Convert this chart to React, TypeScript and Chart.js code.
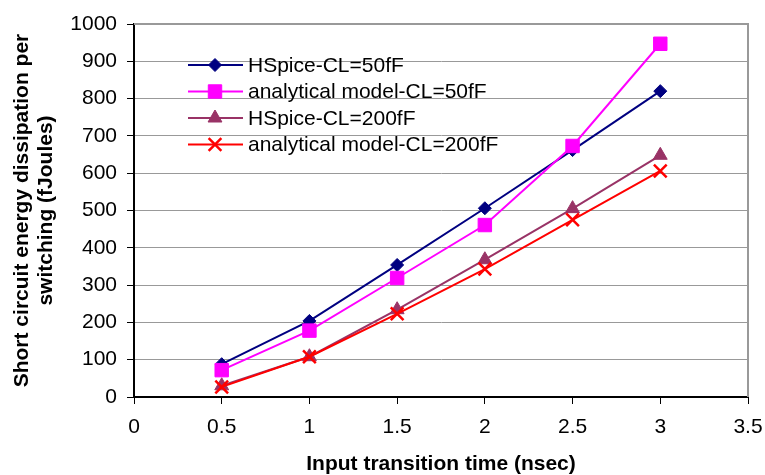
import React, { useEffect, useRef } from "react";
import { Chart, registerables } from "chart.js";
import { drawPoint } from "chart.js/helpers";

Chart.register(...registerables);

const xValues = [0.5, 1, 1.5, 2, 2.5, 3];
const hspice50 = [88, 204, 354, 506, 662, 820];
const analytical50 = [72, 178, 319, 461, 673, 947];
const hspice200 = [30, 108, 234, 368, 505, 648];
const analytical200 = [27, 108, 223, 343, 475, 606];

const seriesNames = [
  "HSpice-CL=50fF",
  "analytical model-CL=50fF",
  "HSpice-CL=200fF",
  "analytical model-CL=200fF",
];
const seriesValues = [hspice50, analytical50, hspice200, analytical200];
const seriesColors = ["#000080", "#FF00FF", "#993366", "#FF0000"];
const seriesStyles = ["rectRot", "rect", "triangle", "crossRot"];
const seriesRadius = [6.5, 9.5, 8, 9];

const xTitle = "Input transition time (nsec)";
const yTitle = ["Short circuit energy dissipation per", "switching (fJoules)"];

const FONT = "'Liberation Sans', Arial, sans-serif";

const framePlugin = {
  id: "frame",
  beforeDatasetsDraw(chart: any) {
    const { ctx, chartArea } = chart;
    ctx.save();
    ctx.strokeStyle = "#999999";
    ctx.lineWidth = 2;
    ctx.beginPath();
    ctx.moveTo(chartArea.left, chartArea.top);
    ctx.lineTo(chartArea.right, chartArea.top);
    ctx.lineTo(chartArea.right, chartArea.bottom);
    ctx.stroke();
    ctx.restore();
  },
};

const legendPlugin = {
  id: "customLegend",
  afterDraw(chart: any) {
    const { ctx } = chart;
    const x0 = 188;
    const x1 = 243;
    const xm = 215;
    const xt = 248;
    const y0 = 65;
    const dy = 26.5;
    ctx.save();
    chart.data.datasets.forEach((ds: any, i: number) => {
      const y = y0 + i * dy;
      ctx.strokeStyle = ds.borderColor;
      ctx.lineWidth = 2;
      ctx.beginPath();
      ctx.moveTo(x0, y);
      ctx.lineTo(x1, y);
      ctx.stroke();
      ctx.fillStyle = ds.pointBackgroundColor;
      ctx.strokeStyle = ds.pointBorderColor;
      ctx.lineWidth = ds.pointBorderWidth;
      drawPoint(ctx, { pointStyle: ds.pointStyle, radius: ds.pointRadius, rotation: 0, borderWidth: ds.pointBorderWidth }, xm, y);
      ctx.fillStyle = "#000";
      ctx.font = `21px ${FONT}`;
      ctx.textAlign = "left";
      ctx.textBaseline = "middle";
      ctx.fillText(ds.label, xt, y + 1);
    });
    ctx.restore();
  },
};

export default function App() {
  const ref = useRef<HTMLCanvasElement | null>(null);
  useEffect(() => {
    if (!ref.current) return;
    const datasets = seriesNames.map((name, i) => ({
      label: name,
      data: xValues.map((x, j) => ({ x, y: seriesValues[i][j] })),
      borderColor: seriesColors[i],
      backgroundColor: seriesColors[i],
      borderWidth: 2,
      pointStyle: seriesStyles[i],
      pointRadius: seriesRadius[i],
      pointHoverRadius: seriesRadius[i],
      pointBackgroundColor: seriesColors[i],
      pointBorderColor: seriesColors[i],
      pointBorderWidth: seriesStyles[i] === "crossRot" ? 2.5 : 1,
      tension: 0,
      fill: false,
      clip: false as any,
      order: 3 - i,
    }));
    const chart = new Chart(ref.current, {
      type: "line",
      data: { datasets },
      options: {
        animation: false,
        responsive: true,
        maintainAspectRatio: false,
        layout: { padding: { left: 0, right: 17, top: 24, bottom: 0 } },
        plugins: {
          legend: { display: false },
          tooltip: { enabled: false },
        },
        scales: {
          x: {
            type: "linear",
            min: 0,
            max: 3.5,
            afterFit: (s: any) => {
              s.height = 78;
              s.paddingLeft = 0;
              s.paddingRight = 0;
            },
            ticks: {
              stepSize: 0.5,
              color: "#000",
              padding: 11,
              font: { size: 21, family: FONT },
              maxRotation: 0,
              callback: (v: any) => String(v),
            },
            grid: {
              drawOnChartArea: false,
              drawTicks: true,
              tickLength: 7,
              tickColor: "#000",
              tickWidth: 1,
            },
            border: { display: true, color: "#000", width: 2 },
            title: {
              display: true,
              text: xTitle,
              color: "#000",
              font: { size: 21, weight: "bold", family: FONT, lineHeight: 1.05 },
              padding: { top: 0, bottom: 0 },
            },
          },
          y: {
            type: "linear",
            min: 0,
            max: 1000,
            afterFit: (s: any) => {
              s.width = 134;
              s.paddingTop = 0;
              s.paddingBottom = 0;
            },
            ticks: {
              stepSize: 100,
              color: "#000",
              padding: 10,
              font: { size: 21, family: FONT },
              callback: (v: any) => String(v),
            },
            grid: {
              color: "#999999",
              lineWidth: 1,
              drawTicks: true,
              tickLength: 7,
              tickColor: "#000",
              tickWidth: 1,
            },
            border: { display: true, color: "#000", width: 2 },
            title: {
              display: true,
              text: yTitle,
              color: "#000",
              font: { size: 21, weight: "bold", family: FONT, lineHeight: 1.15 },
              padding: { top: 10, bottom: 0 },
            },
          },
        },
      },
      plugins: [framePlugin, legendPlugin],
    });
    return () => chart.destroy();
  }, []);
  return (
    <div style={{ position: "fixed", left: 0, top: 0, width: 765, height: 475, background: "#fff" }}>
      <canvas ref={ref} />
    </div>
  );
}
